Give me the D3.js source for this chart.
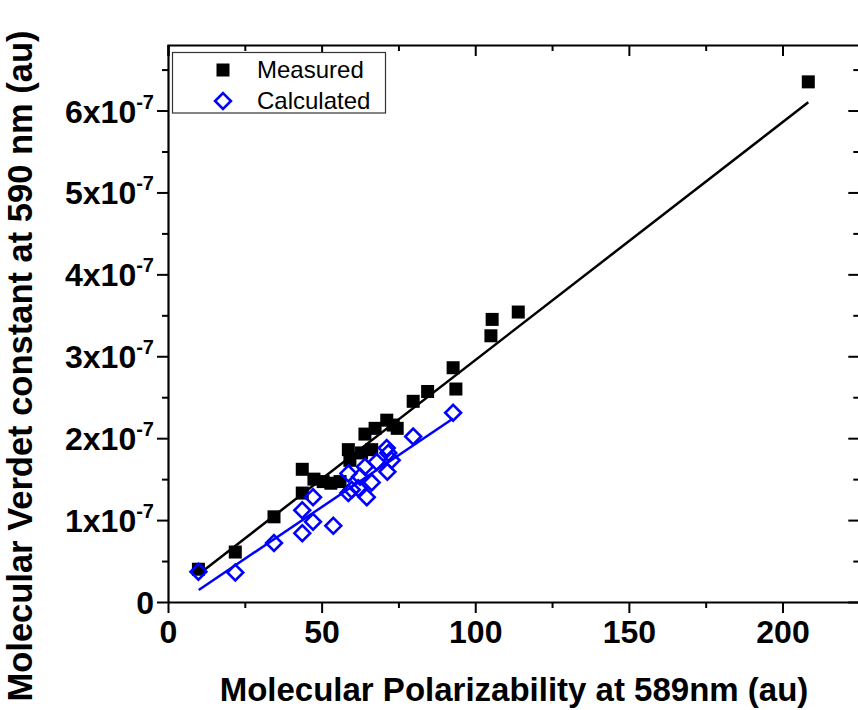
<!DOCTYPE html>
<html>
<head>
<meta charset="utf-8">
<script src="https://cdn.jsdelivr.net/npm/d3@7"></script>
<style>
  body { margin: 0; background: #fff; }
  text { font-family: "Liberation Sans", Arial, sans-serif; }
</style>
</head>
<body>
<div id="chart"></div>
<script>

// Measured points (polarizability au, Verdet constant au)
var measured_x = [9.9, 21.9, 34.5, 43.7, 43.7, 47.5, 50.5, 53.0, 56.0, 58.7, 59.2, 63.0, 66.3, 64.1, 67.4, 71.2, 73.3, 74.6,
                  79.8, 84.5, 92.8, 93.7, 105.1, 105.5, 114.0, 208.4];
var measured_y = [0.40e-7, 0.61e-7, 1.04e-7, 1.62e-7, 1.33e-7, 1.50e-7, 1.47e-7, 1.45e-7, 1.47e-7, 1.86e-7, 1.73e-7, 1.82e-7, 1.86e-7, 2.05e-7, 2.12e-7, 2.22e-7, 2.16e-7, 2.12e-7,
                  2.45e-7, 2.57e-7, 2.86e-7, 2.60e-7, 3.25e-7, 3.45e-7, 3.54e-7, 6.35e-7];

// Calculated points
var calc_x = [9.9, 21.9, 34.5, 43.7, 43.7, 47.2, 47.2, 53.8, 58.7, 58.7, 59.8, 61.9, 62.5, 64.1, 64.7, 66.3, 67.9, 71.2, 71.7, 72.8, 71.4, 79.8, 92.8];
var calc_y = [0.37e-7, 0.36e-7, 0.72e-7, 1.12e-7, 0.84e-7, 1.28e-7, 0.98e-7, 0.93e-7, 1.57e-7, 1.33e-7, 1.37e-7, 1.39e-7, 1.53e-7, 1.65e-7, 1.28e-7, 1.46e-7, 1.71e-7, 1.88e-7, 1.82e-7, 1.73e-7, 1.59e-7, 2.02e-7, 2.31e-7];

// linear fits, end points
var measured_fit_x = [10, 208.4];
var measured_fit_y = [0.34e-7, 6.10e-7];
var calc_fit_x = [10, 92.8];
var calc_fit_y = [0.147e-7, 2.24e-7];

var x_major = [0, 50, 100, 150, 200];
var x_minor = [25, 75, 125, 175];
var y_major = [0, 1e-7, 2e-7, 3e-7, 4e-7, 5e-7, 6e-7];
var y_minor = [0.5e-7, 1.5e-7, 2.5e-7, 3.5e-7, 4.5e-7, 5.5e-7, 6.5e-7];

var legend_labels = ["Measured", "Calculated"];

var W = 858, H = 710;
var margin = {left: 168, top: 45, right: 859.3, bottom: 602};

var svg = d3.select("#chart").append("svg")
  .attr("width", W)
  .attr("height", H);

var x = d3.scaleLinear().domain([0, 225]).range([margin.left, margin.right]);
var y = d3.scaleLinear().domain([0, 6.8e-7]).range([margin.bottom, margin.top]);

var blue = "#0000ff";

// fit lines
var line = d3.line().x(d => x(d[0])).y(d => y(d[1]));
svg.append("path")
  .attr("d", line(d3.zip(measured_fit_x, measured_fit_y)))
  .attr("fill", "none").attr("stroke", "black").attr("stroke-width", 2.5);
svg.append("path")
  .attr("d", line(d3.zip(calc_fit_x, calc_fit_y)))
  .attr("fill", "none").attr("stroke", blue).attr("stroke-width", 2.5);

// squares
var sq = 13;
svg.append("g").selectAll("rect")
  .data(d3.zip(measured_x, measured_y))
  .enter().append("rect")
    .attr("x", d => x(d[0]) - sq/2)
    .attr("y", d => y(d[1]) - sq/2)
    .attr("width", sq).attr("height", sq)
    .attr("fill", "black");

// diamonds
var diamond = d3.symbol().type(d3.symbolDiamond2).size(160);
svg.append("g").selectAll("path")
  .data(d3.zip(calc_x, calc_y))
  .enter().append("path")
    .attr("transform", d => "translate(" + x(d[0]) + "," + y(d[1]) + ")")
    .attr("d", diamond)
    .attr("fill", "none")
    .attr("stroke", blue)
    .attr("stroke-width", 2.6);

// axes
function style_axis(g){
  g.select(".domain").attr("stroke-width", 2.2);
  g.selectAll(".tick line").attr("stroke-width", 2);
}

svg.append("g")
  .attr("transform", "translate(0," + margin.bottom + ")")
  .call(d3.axisBottom(x).tickValues(x_major).tickSizeInner(11).tickSizeOuter(0).tickPadding(7))
  .call(style_axis)
  .call(g => g.selectAll("text").attr("font-size", 32).attr("font-weight", "bold").attr("fill", "black"));
svg.append("g")
  .attr("transform", "translate(0," + margin.bottom + ")")
  .call(d3.axisBottom(x).tickValues(x_minor).tickSize(6).tickFormat(""))
  .call(style_axis)
  .call(g => g.select(".domain").remove());

// top axis, inward ticks
svg.append("g")
  .attr("transform", "translate(0," + margin.top + ")")
  .call(d3.axisTop(x).tickValues(x_major).tickSize(-11).tickFormat(""))
  .call(style_axis);
svg.append("g")
  .attr("transform", "translate(0," + margin.top + ")")
  .call(d3.axisTop(x).tickValues(x_minor).tickSize(-6).tickFormat(""))
  .call(style_axis)
  .call(g => g.select(".domain").remove());

// left axis
svg.append("g")
  .attr("transform", "translate(" + margin.left + ",0)")
  .call(d3.axisLeft(y).tickValues(y_major).tickSizeInner(11).tickSizeOuter(0).tickFormat(""))
  .call(style_axis);
svg.append("g")
  .attr("transform", "translate(" + margin.left + ",0)")
  .call(d3.axisLeft(y).tickValues(y_minor).tickSize(6).tickFormat(""))
  .call(style_axis)
  .call(g => g.select(".domain").remove());

// right axis, inward ticks
svg.append("g")
  .attr("transform", "translate(" + margin.right + ",0)")
  .call(d3.axisRight(y).tickValues(y_major).tickSizeInner(-11).tickSizeOuter(0).tickFormat(""))
  .call(style_axis);
svg.append("g")
  .attr("transform", "translate(" + margin.right + ",0)")
  .call(d3.axisRight(y).tickValues(y_minor).tickSize(-6).tickFormat(""))
  .call(style_axis)
  .call(g => g.select(".domain").remove());

// y tick labels, "kx10^-7"
var ylab = svg.append("g")
  .selectAll("text")
  .data(y_major)
  .enter().append("text")
    .attr("x", 154)
    .attr("y", d => y(d) + 12)
    .attr("text-anchor", "end")
    .attr("font-size", 32)
    .attr("font-weight", "bold");
ylab.each(function(d){
  var t = d3.select(this);
  var k = Math.round(d / 1e-7);
  if (k == 0) { t.text("0"); return; }
  t.append("tspan").text(k + "x10");
  t.append("tspan").attr("font-size", 20).attr("dy", -14).text("-7");
});

// axis titles
svg.append("text")
  .attr("x", (218 + 810) / 2)
  .attr("y", 701)
  .attr("text-anchor", "middle")
  .attr("font-size", 33)
  .attr("font-weight", "bold")
  .text("Molecular Polarizability at 589nm (au)");

svg.append("text")
  .attr("transform", "translate(32,366) rotate(-90)")
  .attr("text-anchor", "middle")
  .attr("font-size", 34.5)
  .attr("font-weight", "bold")
  .text("Molecular Verdet constant at 590 nm (au)");

// legend
var lg = svg.append("g");
lg.append("rect")
  .attr("x", 172.5).attr("y", 52.5)
  .attr("width", 213).attr("height", 60.5)
  .attr("fill", "white")
  .attr("stroke", "#333").attr("stroke-width", 1.2);
lg.append("rect")
  .attr("x", 223 - 6.5).attr("y", 70 - 6.5)
  .attr("width", 13).attr("height", 13)
  .attr("fill", "black");
lg.append("path")
  .attr("transform", "translate(223,101)")
  .attr("d", diamond)
  .attr("fill", "none").attr("stroke", blue).attr("stroke-width", 2.6);
lg.selectAll("text.leg")
  .data(legend_labels)
  .enter().append("text")
    .attr("class", "leg")
    .attr("x", 257)
    .attr("y", (d, i) => 78 + i * 31)
    .attr("font-size", 24)
    .text(d => d);

</script>
</body>
</html>
